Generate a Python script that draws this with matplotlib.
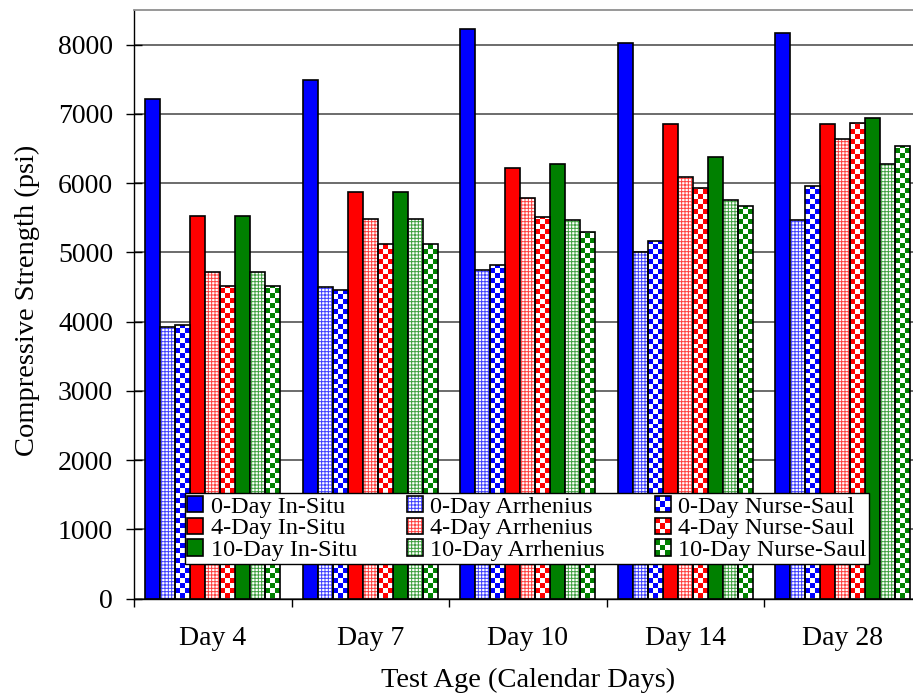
import numpy as np
import matplotlib
matplotlib.use("Agg")
import matplotlib.pyplot as plt
from matplotlib.patches import Rectangle, Patch
from matplotlib.legend_handler import HandlerBase

plt.rcParams["font.family"] = ["Liberation Serif", "DejaVu Serif"]
plt.rcParams["hatch.linewidth"] = 0.7

# ---- data -------------------------------------------------------------
categories = ["Day 4", "Day 7", "Day 10", "Day 14", "Day 28"]

insitu_0 = [7210, 7490, 8230, 8030, 8170]
arrhenius_0 = [3920, 4500, 4750, 5000, 5460]
nursesaul_0 = [3950, 4460, 4810, 5170, 5960]

insitu_4 = [5520, 5870, 6220, 6860, 6860]
arrhenius_4 = [4720, 5480, 5790, 6090, 6630]
nursesaul_4 = [4510, 5120, 5510, 5930, 6870]

insitu_10 = [5520, 5870, 6280, 6380, 6940]
arrhenius_10 = [4720, 5480, 5470, 5760, 6280]
nursesaul_10 = [4510, 5120, 5290, 5670, 6530]

series = [
    ("0-Day In-Situ", insitu_0, "#0000FF", "solid"),
    ("0-Day Arrhenius", arrhenius_0, "#0000FF", "dots"),
    ("0-Day Nurse-Saul", nursesaul_0, "#0000FF", "checker"),
    ("4-Day In-Situ", insitu_4, "#FF0000", "solid"),
    ("4-Day Arrhenius", arrhenius_4, "#FF0000", "dots"),
    ("4-Day Nurse-Saul", nursesaul_4, "#FF0000", "checker"),
    ("10-Day In-Situ", insitu_10, "#008000", "solid"),
    ("10-Day Arrhenius", arrhenius_10, "#008000", "dots"),
    ("10-Day Nurse-Saul", nursesaul_10, "#008000", "checker"),
]

DOT_HATCH = "+++++"

# ---- figure / axes ----------------------------------------------------
W, H = 913, 698
fig = plt.figure(figsize=(W / 100, H / 100), dpi=100)
ax = fig.add_axes([134 / W, 1 - 598.5 / H, 787.5 / W, 588.5 / H])

n_groups = len(categories)
bar_w = 0.0952
start = 0.072
ymax = 8500
cell_y = 72.0  # checker cell height in data units


def to_rgb(c):
    return np.array(matplotlib.colors.to_rgb(c))


def tint(c, f):
    rgb = to_rgb(c)
    return tuple(1 - (1 - rgb) * f)


for j, (label, vals, color, kind) in enumerate(series):
    xs = np.arange(n_groups) + start + j * bar_w + bar_w / 2
    if kind == "solid":
        ax.bar(xs, vals, width=bar_w, color=color, edgecolor="black",
               linewidth=1.2, zorder=2)
    elif kind == "dots":
        ax.bar(xs, vals, width=bar_w, facecolor="white",
               edgecolor=tint(color, 0.75), hatch=DOT_HATCH, linewidth=0,
               zorder=2)
        ax.bar(xs, vals, width=bar_w, fill=False, edgecolor="black",
               linewidth=1.2, zorder=3)
    else:
        bars = ax.bar(xs, vals, width=bar_w, facecolor="white",
                      edgecolor="none", linewidth=0, zorder=2)
        rgb = to_rgb(color)
        for rect, v in zip(bars, vals):
            rows = int(np.ceil(v / cell_y))
            img = np.ones((rows, 3, 3))
            for r in range(rows):
                for c in range(3):
                    if (r + c) % 2 == 1:
                        img[r, c] = rgb
            x0 = rect.get_x()
            im = ax.imshow(img, extent=[x0, x0 + bar_w, 0, rows * cell_y],
                           origin="lower", interpolation="nearest",
                           aspect="auto", zorder=2.5)
            im.set_clip_path(rect)
        ax.bar(xs, vals, width=bar_w, fill=False, edgecolor="black",
               linewidth=1.2, zorder=3)

ax.set_xlim(0, n_groups)
ax.set_ylim(0, ymax)
ax.set_axisbelow(True)
ax.yaxis.grid(True, color="#606060", linewidth=1.3)
ax.set_yticks(np.arange(0, 8001, 1000))
ax.tick_params(axis="y", direction="inout", length=12, width=1.0,
               labelsize=20, pad=9)

ax.set_xticks(np.arange(0, n_groups + 1))
ax.set_xticklabels([])
ax.set_xticks(np.arange(n_groups) + 0.5, minor=True)
ax.set_xticklabels(categories, minor=True)
ax.tick_params(axis="x", which="major", direction="out", length=6, width=1.0)
ax.tick_params(axis="x", which="minor", length=0, labelsize=20, pad=20)

for s in ("left", "bottom"):
    ax.spines[s].set_color("black")
    ax.spines[s].set_linewidth(1.0)
ax.spines["top"].set_color("#909090")
ax.spines["top"].set_linewidth(1.3)
ax.spines["right"].set_visible(False)

ax.set_xlabel("Test Age (Calendar Days)", fontsize=20.5, labelpad=12)
fig.text(27 / W, 1 - 300 / H, "Compressive Strength (psi)", rotation=90,
         ha="center", va="center", fontsize=20.5)


# ---- legend -----------------------------------------------------------
class PatternHandler(HandlerBase):
    def __init__(self, kind, color):
        super().__init__()
        self.kind = kind
        self.color = color

    def create_artists(self, legend, orig_handle, xdescent, ydescent,
                       width, height, fontsize, trans):
        x0, y0 = -xdescent, -ydescent
        arts = []
        if self.kind == "solid":
            arts.append(Rectangle((x0, y0), width, height, facecolor=self.color,
                                  edgecolor="black", lw=1.2, transform=trans))
            return arts
        if self.kind == "dots":
            arts.append(Rectangle((x0, y0), width, height, facecolor="white",
                                  edgecolor=tint(self.color, 0.75),
                                  hatch=DOT_HATCH, lw=0, transform=trans))
        else:
            arts.append(Rectangle((x0, y0), width, height, facecolor="white",
                                  edgecolor="none", lw=0, transform=trans))
            n = 3
            cw, ch = width / n, height / n
            for r in range(n):
                for c in range(n):
                    if (r + c) % 2 == 0:
                        arts.append(Rectangle((x0 + c * cw, y0 + r * ch), cw, ch,
                                              facecolor=self.color,
                                              edgecolor="none", lw=0,
                                              transform=trans))
        arts.append(Rectangle((x0, y0), width, height, fill=False,
                              edgecolor="black", lw=1.2, transform=trans))
        return arts


order = [0, 3, 6, 1, 4, 7, 2, 5, 8]
handles, labels, hmap = [], [], {}
for k in order:
    label, vals, color, kind = series[k]
    h = Patch(facecolor=color)
    handles.append(h)
    labels.append(label)
    hmap[h] = PatternHandler(kind, color)

leg = fig.legend(handles, labels, handler_map=hmap, ncol=3,
                 loc="center left", bbox_to_anchor=(185 / W, 1 - 528.5 / H),
                 bbox_transform=fig.transFigure, borderaxespad=0,
                 fontsize=17.5, handlelength=0.66, handleheight=0.66,
                 handletextpad=0.3, labelspacing=0.0, columnspacing=2.05,
                 borderpad=0.1, fancybox=False, framealpha=1,
                 edgecolor="black")
leg.get_frame().set_linewidth(1.0)

fig.savefig("out.png", dpi=100)
